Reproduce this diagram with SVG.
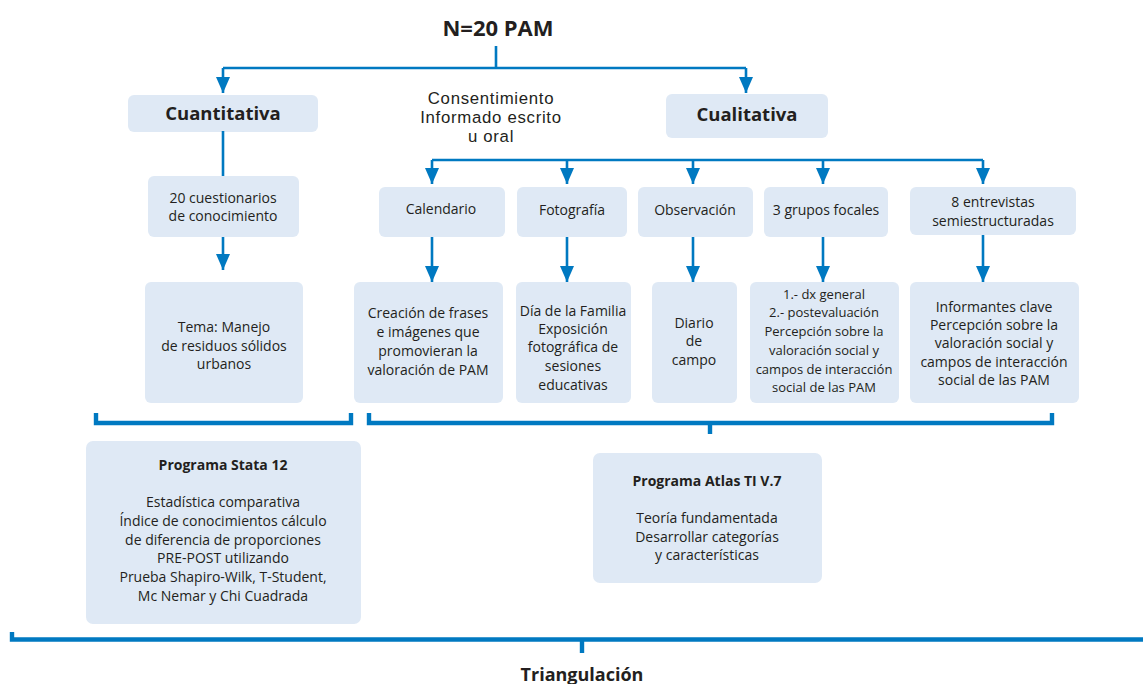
<svg xmlns="http://www.w3.org/2000/svg" width="1143" height="684" viewBox="0 0 1143 684">
<style>
.box{fill:#dfe9f5;}
text{font-family:"Open Sans","Noto Sans",sans-serif;fill:#231f20;text-anchor:middle;}
.t{font-size:14px;}
.s{font-size:13px;}
.b{font-weight:bold;}
.cons{font-family:"Liberation Sans",Arial,sans-serif;font-size:16.8px;letter-spacing:0.7px;}
.ln{fill:none;stroke:#0079c1;stroke-width:2.6;}
.br{fill:none;stroke:#0079c1;stroke-width:4.4;}
</style>
<defs>
<marker id="ah" markerUnits="userSpaceOnUse" markerWidth="17" markerHeight="15" refX="16" refY="7" orient="auto">
<path d="M0,0 L16,7 L0,14 Z" fill="#0079c1"/>
</marker>
</defs>
<rect width="1143" height="684" fill="#ffffff"/>
<g id="title"><text x="498" y="36" class="b" style="font-size:22px">N=20 PAM</text></g>
<g id="cuantitativa"><rect class="box" x="128" y="95" width="190" height="37" rx="6"/><text x="223" y="120" class="b" style="font-size:18.5px">Cuantitativa</text></g>
<g id="cualitativa"><rect class="box" x="666" y="94" width="162" height="44" rx="6"/><text x="747" y="121" class="b" style="font-size:18.5px">Cualitativa</text></g>
<g id="consentimiento"><text class="cons"><tspan x="491" y="103.5">Consentimiento</tspan><tspan x="491" y="122.5">Informado escrito</tspan><tspan x="491" y="141.5">u oral</tspan></text></g>
<g id="cuestionarios"><rect class="box" x="148" y="176" width="151" height="61" rx="6"/><text class="t"><tspan x="223" y="203">20 cuestionarios</tspan><tspan x="223" y="221">de conocimiento</tspan></text></g>
<g id="tema"><rect class="box" x="145" y="282" width="158" height="121" rx="6"/><text class="t"><tspan x="224" y="332">Tema: Manejo</tspan><tspan x="224" y="351">de residuos sólidos</tspan><tspan x="224" y="369">urbanos</tspan></text></g>
<g id="calendario"><rect class="box" x="379" y="187" width="126" height="50" rx="6"/><text class="t" x="441" y="214">Calendario</text></g>
<g id="fotografia"><rect class="box" x="517" y="187" width="110" height="50" rx="6"/><text class="t" x="572" y="215">Fotografía</text></g>
<g id="observacion"><rect class="box" x="638" y="187" width="115" height="50" rx="6"/><text class="t" x="695" y="215">Observación</text></g>
<g id="grupos"><rect class="box" x="764" y="187" width="124" height="50" rx="6"/><text class="t" x="826" y="215">3 grupos focales</text></g>
<g id="entrevistas"><rect class="box" x="910" y="187" width="166" height="48" rx="6"/><text class="t"><tspan x="993" y="207">8 entrevistas</tspan><tspan x="993" y="226">semiestructuradas</tspan></text></g>
<g id="creacion"><rect class="box" x="354" y="282" width="149" height="121" rx="6"/><text class="t"><tspan x="428" y="318">Creación de frases</tspan><tspan x="428" y="337">e imágenes que</tspan><tspan x="428" y="356">promovieran la</tspan><tspan x="428" y="375">valoración de PAM</tspan></text></g>
<g id="dia"><rect class="box" x="516" y="282" width="115" height="121" rx="6"/><text class="t"><tspan x="573" y="316">Día de la Familia</tspan><tspan x="573" y="334">Exposición</tspan><tspan x="573" y="352">fotográfica de</tspan><tspan x="573" y="371">sesiones</tspan><tspan x="573" y="390">educativas</tspan></text></g>
<g id="diario"><rect class="box" x="652" y="282" width="85" height="121" rx="6"/><text class="t"><tspan x="694" y="328">Diario</tspan><tspan x="694" y="346">de</tspan><tspan x="694" y="365">campo</tspan></text></g>
<g id="dx"><rect class="box" x="750" y="282" width="149" height="121" rx="6"/><text class="s"><tspan x="824" y="299">1.- dx general</tspan><tspan x="824" y="317">2.- postevaluación</tspan><tspan x="824" y="336">Percepción sobre la</tspan><tspan x="824" y="355">valoración social y</tspan><tspan x="824" y="374">campos de interacción</tspan><tspan x="824" y="392">social de las PAM</tspan></text></g>
<g id="informantes"><rect class="box" x="910" y="282" width="169" height="121" rx="6"/><text class="t"><tspan x="994" y="312">Informantes clave</tspan><tspan x="994" y="330">Percepción sobre la</tspan><tspan x="994" y="348">valoración social y</tspan><tspan x="994" y="367">campos de interacción</tspan><tspan x="994" y="385">social de las PAM</tspan></text></g>
<g id="stata"><rect class="box" x="86" y="441" width="275" height="183" rx="7"/><text class="t b" x="223" y="470">Programa Stata 12</text><text class="t"><tspan x="223" y="507">Estadística comparativa</tspan><tspan x="223" y="526">Índice de conocimientos cálculo</tspan><tspan x="223" y="545">de diferencia de proporciones</tspan><tspan x="223" y="563">PRE-POST utilizando</tspan><tspan x="223" y="582">Prueba Shapiro-Wilk, T-Student,</tspan><tspan x="223" y="601">Mc Nemar y Chi Cuadrada</tspan></text></g>
<g id="atlas"><rect class="box" x="593" y="453" width="229" height="130" rx="7"/><text class="t b" x="707" y="486">Programa Atlas TI V.7</text><text class="t"><tspan x="707" y="523">Teoría fundamentada</tspan><tspan x="707" y="542">Desarrollar categorías</tspan><tspan x="707" y="560">y características</tspan></text></g>
<g id="triangulacion"><text x="582" y="681" class="b" style="font-size:18px">Triangulación</text></g>
<g id="connectors">
<path class="ln" d="M496,46 V68 M223,68 H746"/>
<path class="ln" d="M223,68 V93" marker-end="url(#ah)"/>
<path class="ln" d="M746,68 V93" marker-end="url(#ah)"/>
<path class="ln" d="M223,131 V176"/>
<path class="ln" d="M223,237 V270" marker-end="url(#ah)"/>
<path class="ln" d="M432,160 H983"/>
<path class="ln" d="M432,160 V184" marker-end="url(#ah)"/>
<path class="ln" d="M567,160 V184" marker-end="url(#ah)"/>
<path class="ln" d="M693,160 V184" marker-end="url(#ah)"/>
<path class="ln" d="M823,160 V184" marker-end="url(#ah)"/>
<path class="ln" d="M983,160 V184" marker-end="url(#ah)"/>
<path class="ln" d="M432,237 V282" marker-end="url(#ah)"/>
<path class="ln" d="M567,237 V282" marker-end="url(#ah)"/>
<path class="ln" d="M693,237 V282" marker-end="url(#ah)"/>
<path class="ln" d="M823,237 V282" marker-end="url(#ah)"/>
<path class="ln" d="M983,235 V282" marker-end="url(#ah)"/>
<path class="br" d="M96,413 V423 H351 V413"/>
<path class="br" d="M369,413 V423 H1052 V413 M710,423 V434"/>
<path class="br" d="M12,632 V639.5 H1143 M582,639.5 V653"/>
</g>
</svg>
